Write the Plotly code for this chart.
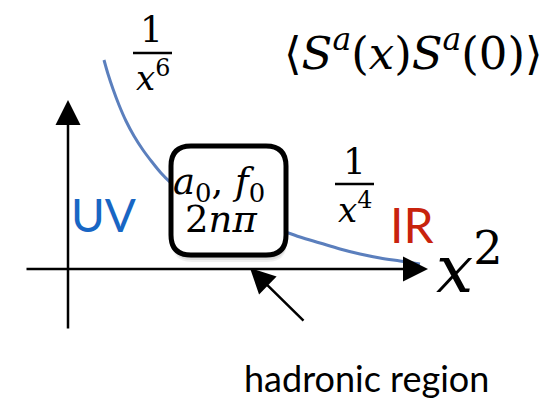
import plotly.graph_objects as go

# Schematic correlator curve, sampled in canvas coordinates (x right, y down)
curve_x = [104, 108, 113, 119, 126, 134, 143, 152, 161, 170, 200, 240, 285, 300, 320, 340, 360, 380, 400, 420]
curve_y = [60, 74, 89, 105, 121, 136, 150, 162, 173, 182, 205, 222, 232, 237, 243, 249, 254, 258, 261, 264]

SERIF = "DejaVu Serif"
SANS = "Lato"
# Text labels: (text, x, y, size, colour, family)
labels = [
    ("1", 151, 29, 36, "black", SERIF),
    ("<i>x</i><sup>6</sup>", 153, 76, 34, "black", SERIF),
    ("1", 354, 161, 36, "black", SERIF),
    ("<i>x</i><sup>4</sup>", 355, 208, 34, "black", SERIF),
    ("\u27e8<i>S</i><sup><i>a</i></sup>(<i>x</i>)<i>S</i><sup><i>a</i></sup>(0)\u27e9", 413, 50, 45, "black", SERIF),
    ("<i>a</i><sub>0</sub>, <i>f</i><sub>0</sub>", 219, 184, 37, "black", SERIF),
    ("2<i>n\u03c0</i>", 221, 219, 37, "black", SERIF),
    ("UV", 103, 214, 46, "#1866c4", SANS),
    ("IR", 412, 224, 48, "#c8230d", SANS),
    ("<i>x</i><sup>2</sup>", 469, 264, 66, "black", SERIF),
    ("hadronic region", 366, 378, 36, "black", SANS),
]

# Fraction bars: (x0, x1, y)
fraction_bars = [(133, 172, 53), (335, 374, 184)]

# Arrows: (tail_x, tail_y, head_x, head_y)
arrows = [
    (68, 330, 68, 100),   # vertical axis
    (25, 269, 428, 269),  # horizontal axis (x^2)
    (305, 322, 250, 268), # pointer to the hadronic region
]

# Rounded box around the hadronic parameters
box = dict(x0=171, x1=286, y0=146, y1=255, r=20)

fig = go.Figure()
fig.add_trace(go.Scatter(x=curve_x, y=curve_y, mode="lines",
                         line=dict(color="#5b7fbd", width=3, shape="spline"),
                         hoverinfo="skip", showlegend=False))


def rounded(x0, y0, x1, y1, r):
    return (f"M {x0+r},{y0} L {x1-r},{y0} Q {x1},{y0} {x1},{y0+r} "
            f"L {x1},{y1-r} Q {x1},{y1} {x1-r},{y1} L {x0+r},{y1} "
            f"Q {x0},{y1} {x0},{y1-r} L {x0},{y0+r} Q {x0},{y0} {x0+r},{y0} Z")


shapes = []
# soft drop shadow
for off, op in [(7, 0.06), (5, 0.08), (3, 0.12)]:
    shapes.append(dict(type="path", xref="x", yref="y", layer="above",
                       path=rounded(box["x0"] + 1, box["y0"] + off, box["x1"] + 1, box["y1"] + off, box["r"]),
                       fillcolor=f"rgba(0,0,0,{op})", line=dict(width=0)))
shapes.append(dict(type="path", xref="x", yref="y", layer="above",
                   path=rounded(box["x0"], box["y0"], box["x1"], box["y1"], box["r"]),
                   fillcolor="white", line=dict(color="black", width=5)))
for x0, x1, y in fraction_bars:
    shapes.append(dict(type="line", xref="x", yref="y", x0=x0, x1=x1, y0=y, y1=y,
                       line=dict(color="black", width=2.5)))

annotations = []
for tx, ty, hx, hy in arrows:
    annotations.append(dict(x=hx, y=hy, ax=tx, ay=ty, xref="x", yref="y", axref="x", ayref="y",
                            text="", showarrow=True, arrowhead=2, arrowsize=2,
                            arrowwidth=2.5, arrowcolor="black", standoff=0))
for text, x, y, size, color, fam in labels:
    annotations.append(dict(x=x, y=y, xref="x", yref="y", text=text, showarrow=False,
                            xanchor="center", yanchor="middle",
                            font=dict(size=size, color=color, family=fam)))

fig.update_layout(
    width=560, height=399,
    margin=dict(l=0, r=0, t=0, b=0),
    paper_bgcolor="white", plot_bgcolor="white",
    xaxis=dict(range=[0, 560], visible=False, fixedrange=True),
    yaxis=dict(range=[399, 0], visible=False, fixedrange=True),
    shapes=shapes, annotations=annotations, showlegend=False,
)

fig.write_html("out.html")
